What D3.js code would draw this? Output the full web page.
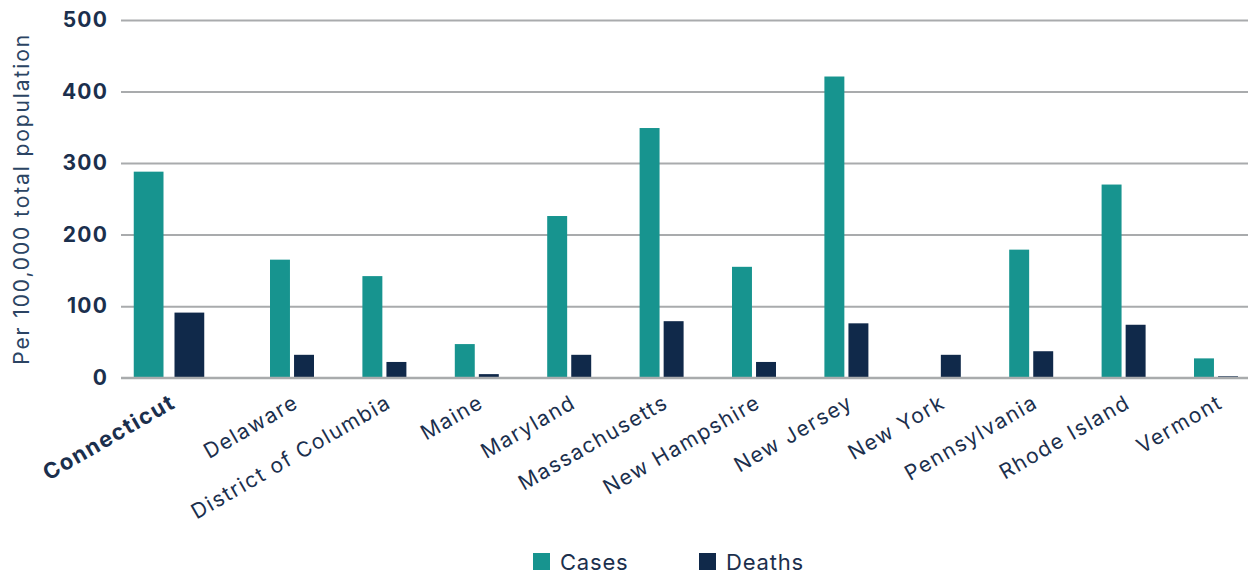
<!DOCTYPE html>
<html>
<head>
<meta charset="utf-8">
<script src="https://cdn.jsdelivr.net/npm/d3@7"></script>
<style>
  html, body { margin: 0; padding: 0; background: #fff; }
  svg { display: block; }
</style>
</head>
<body>
<svg id="chart" width="1248" height="578"></svg>
<script>
// ---- data ----
const states = ["Connecticut", "Delaware", "District of Columbia", "Maine", "Maryland",
  "Massachusetts", "New Hampshire", "New Jersey", "New York", "Pennsylvania",
  "Rhode Island", "Vermont"];
const cases  = [288, 165, 142, 47, 226, 349, 155, 421, 0, 179, 270, 27];
const deaths = [91, 32, 22, 5, 32, 79, 22, 76, 32, 37, 74, 2];
const seriesNames = ["Cases", "Deaths"];
const yTicks = [0, 100, 200, 300, 400, 500];
const highlighted = "Connecticut";

// ---- styles ----
const colors = { Cases: "#17948f", Deaths: "#10294a" };
const textColor = "#1b2f4d";
const font = "Inter, 'Noto Sans', sans-serif";

const W = 1248, H = 578;
const plotLeft = 121, plotRight = 1248, plotTop = 20, plotBottom = 377.7;
const GROUP_W = 44, HL_GROUP_W = 70.5, HL_SHIFT = -30.6;

const svg = d3.select("#chart");

const y = d3.scaleLinear().domain([0, 500]).range([plotBottom, plotTop]);
const x = d3.scaleBand().domain(states).range([153.4, 1262.2]).padding(0);
const sub = d3.scaleBand().domain(seriesNames).range([0, GROUP_W]).paddingInner(0.17);
const subHL = d3.scaleBand().domain(seriesNames).range([0, HL_GROUP_W]).paddingInner(0.27);

function groupCenter(s) {
  return x(s) + x.bandwidth() / 2 + (s === highlighted ? HL_SHIFT : 0);
}

// grid + y axis
const yAxis = d3.axisLeft(y).tickValues(yTicks).tickSize(-(plotRight - plotLeft)).tickPadding(13);
const gy = svg.append("g").attr("transform", `translate(${plotLeft},0)`).call(yAxis);
gy.select(".domain").remove();
gy.selectAll(".tick line").attr("stroke", "#a9abad").attr("stroke-width", 2);
gy.selectAll(".tick text")
  .attr("fill", textColor)
  .attr("font-family", font)
  .attr("font-weight", 700)
  .attr("font-size", 21)
  .attr("letter-spacing", 1.2);

// y title
svg.append("text")
  .attr("transform", `translate(29,${(plotTop + plotBottom) / 2}) rotate(-90)`)
  .attr("text-anchor", "middle")
  .attr("fill", "#2b4463")
  .attr("font-family", font)
  .attr("font-size", 21)
  .attr("letter-spacing", 1.9)
  .text("Per 100,000 total population");

// bars
const rows = states.map((s, i) => ({ state: s, Cases: cases[i], Deaths: deaths[i] }));
const groups = svg.append("g").selectAll("g").data(rows).join("g")
  .attr("transform", d => {
    const w = d.state === highlighted ? HL_GROUP_W : GROUP_W;
    return `translate(${groupCenter(d.state) - w / 2},0)`;
  });
groups.selectAll("rect")
  .data(d => seriesNames.map(k => ({ key: k, value: d[k], hl: d.state === highlighted })))
  .join("rect")
  .attr("x", d => (d.hl ? subHL : sub)(d.key))
  .attr("width", d => (d.hl ? subHL : sub).bandwidth())
  .attr("y", d => y(d.value))
  .attr("height", d => y(0) - y(d.value))
  .attr("fill", d => colors[d.key]);

// redraw the zero line on top
svg.append("line")
  .attr("x1", plotLeft).attr("x2", plotRight)
  .attr("y1", y(0)).attr("y2", y(0))
  .attr("stroke", "#a9abad").attr("stroke-width", 2);

// category labels
svg.append("g").selectAll("text").data(states).join("text")
  .attr("transform", s => `translate(${groupCenter(s) + 8},${plotBottom + 29}) rotate(-30)`)
  .attr("text-anchor", "end")
  .attr("fill", textColor)
  .attr("font-family", font)
  .attr("font-size", s => s === highlighted ? 22 : 21)
  .attr("letter-spacing", 1.5)
  .attr("font-weight", s => s === highlighted ? 700 : 400)
  .text(s => s);

// legend
const legendX = [533, 699];
const lg = svg.append("g").selectAll("g").data(seriesNames).join("g")
  .attr("transform", (d, i) => `translate(${legendX[i]},553)`);
lg.append("rect").attr("width", 17).attr("height", 17).attr("fill", d => colors[d]);
lg.append("text")
  .attr("x", 27).attr("y", 17)
  .attr("fill", textColor)
  .attr("font-family", font)
  .attr("font-size", 22)
  .attr("letter-spacing", 0.8)
  .text(d => d);
</script>
</body>
</html>
